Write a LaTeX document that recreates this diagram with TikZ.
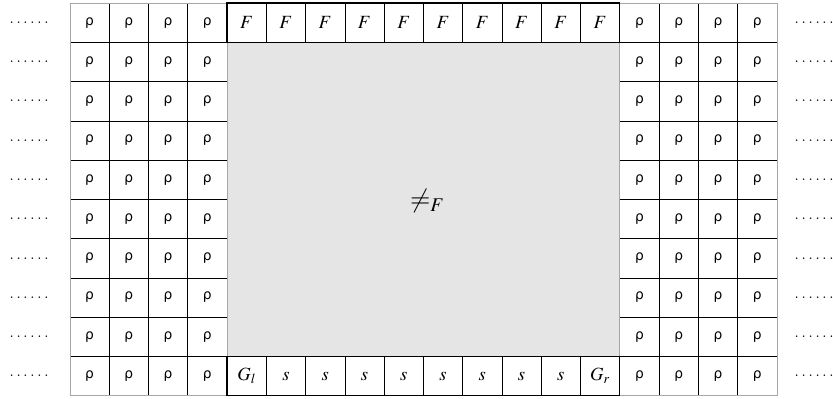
\documentclass[tikz,border=0pt,11pt]{standalone}
\usepackage{mathptmx}
\usepackage{fontspec}
\newfontfamily\rhofont{DejaVu Sans}
\newcommand{\rh}{{\rhofont\small ρ}}
\newcommand{\sixdots}{.\kern2pt.\kern2pt.\kern2pt.\kern2pt.\kern2pt.}
\begin{document}
\begin{tikzpicture}[x=1cm,y=1cm,
  bar/.style={font=\fontsize{13.5}{16}\selectfont}]
\useasboundingbox (-1.78,-0.076) rectangle (19.43,10.076);
% the hole in the middle
\fill[gray!20] (4,1) rectangle (14,9);
% thin grid of the two side blocks and the two bars
\draw[thin] (0,0) grid (4,10);
\draw[thin] (14,0) grid (18,10);
\draw[thin] (4,9) grid (14,10);
\draw[thin] (4,0) grid (14,1);
\draw[gray!70] (4,1) -- (4,9);
\draw[gray!70] (14,1) -- (14,9);
\draw[gray!70] (0,0) rectangle (18,10);
% thick frames round the top and bottom bars
\draw[thick] (4,9) rectangle (14,10);
\draw[thick] (4,0) rectangle (14,1);
\foreach \r in {0,...,9}
{
  \foreach \c in {0,...,3}
  {
    \node (rl-\r-\c) at (\c+0.5,\r+0.5) {\rh};
    \node (rr-\r-\c) at (14.5+\c,\r+0.5) {\rh};
  }
  \node[inner sep=0pt] (dl-\r) at (-1.04,\r+0.5) {\sixdots};
  \node[inner sep=0pt] (dr-\r) at (18.95,\r+0.5) {\sixdots};
}
\foreach \c in {0,...,9}
  \node[bar] (f-\c) at (4.5+\c,9.5) {$F$};
\node[bar] (gl) at (4.5,0.5) {$G_l$};
\foreach \c in {1,...,8}
  \node[bar] (s-\c) at (4.5+\c,0.5) {$s$};
\node[bar] (gr) at (13.5,0.5) {$G_r$};
\node[font=\fontsize{19}{22}\selectfont] (neq) at (9.1,4.95) {$\neq_F$};
\end{tikzpicture}
\end{document}
